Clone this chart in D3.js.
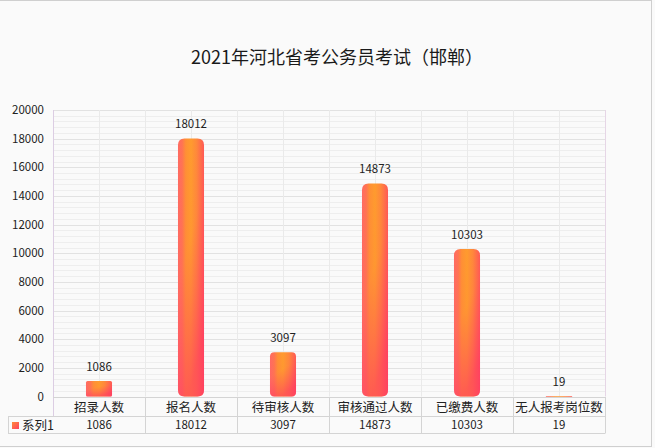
<!DOCTYPE html>
<html><head><meta charset="utf-8">
<script src="https://cdn.jsdelivr.net/npm/d3@7"></script>
<style>
html,body{margin:0;padding:0;background:#fff;}
svg{display:block;font-family:"Noto Sans CJK SC","Noto Sans",sans-serif;}
</style></head>
<body>
<script>
const title = "2021年河北省考公务员考试（邯郸）";
const seriesName = "系列1";
const categories = ["招录人数","报名人数","待审核人数","审核通过人数","已缴费人数","无人报考岗位数"];
const values = [1086, 18012, 3097, 14873, 10303, 19];
const yTicks = [0,2000,4000,6000,8000,10000,12000,14000,16000,18000,20000];
const yMinorStep = 400;

const W = 655, H = 448;
const plot = {left: 53, right: 605, top: 110, bottom: 396.5};

const svg = d3.select("body").append("svg").attr("width", W).attr("height", H);
const defs = svg.append("defs");

// background + frame
svg.append("rect").attr("x",0).attr("y",0).attr("width",W).attr("height",H).attr("fill","#fafafa");
svg.append("rect").attr("x",-1).attr("y",0.5).attr("width",652.5).attr("height",446).attr("fill","none").attr("stroke","#cfcfcf");

const x = d3.scaleBand().domain(categories).range([plot.left, plot.right]).paddingInner(0.717).paddingOuter(0.3585);
const xCell = d3.scaleBand().domain(categories).range([plot.left, plot.right]);
const y = d3.scaleLinear().domain([0, 20000]).range([plot.bottom, plot.top]);

// minor gridlines
const minor = d3.range(0, 20000 + 1, yMinorStep);
svg.append("g").selectAll("line").data(minor).join("line")
  .attr("x1", plot.left).attr("x2", plot.right)
  .attr("y1", d => Math.round(y(d)) + 0.5).attr("y2", d => Math.round(y(d)) + 0.5)
  .attr("stroke", d => d % 2000 === 0 ? "#e2e2e2" : "#eeeeee").attr("stroke-width", 1);

// vertical gridlines (category boundaries and centres)
const vLines = [];
categories.forEach(c => { vLines.push(xCell(c)); vLines.push(xCell(c) + xCell.bandwidth()/2); });
svg.append("g").selectAll("line").data(vLines.slice(1)).join("line")
  .attr("x1", d => Math.round(d) + 0.5).attr("x2", d => Math.round(d) + 0.5)
  .attr("y1", plot.top).attr("y2", plot.bottom)
  .attr("stroke", "#eaeaea");

// plot border left/right
svg.append("line").attr("x1", plot.left + 0.5).attr("x2", plot.left + 0.5).attr("y1", plot.top).attr("y2", 416)
  .attr("stroke", "#dccde3");
svg.append("line").attr("x1", plot.right + 0.5).attr("x2", plot.right + 0.5).attr("y1", plot.top).attr("y2", plot.bottom)
  .attr("stroke", "#e6d6e6");

// y-axis tick labels
const yAxis = d3.axisLeft(y).tickValues(yTicks).tickSize(0).tickPadding(9).tickFormat(d3.format("d"));
const gy = svg.append("g").attr("transform", `translate(${plot.left},0)`).call(yAxis);
gy.select(".domain").remove();
gy.selectAll("text").attr("font-size", 11.5).attr("fill", "#222").attr("font-family", "'Noto Sans CJK SC',sans-serif");

// gradients
const g1 = defs.append("linearGradient").attr("id","barH").attr("x1","0").attr("x2","1").attr("y1","0").attr("y2","0");
[[0,"#ff6b63"],[0.16,"#ff7453"],[0.3,"#ff9134"],[0.5,"#ff9d2d"],[0.72,"#ff8a3a"],[1,"#ff5a55"]]
  .forEach(([o,c]) => g1.append("stop").attr("offset", o).attr("stop-color", c));
const g2 = defs.append("linearGradient").attr("id","barV").attr("x1","0").attr("x2","0.4").attr("y1","0").attr("y2","1");
[[0,"#ff3a6a",0],[0.5,"#ff3a6a",0.05],[1,"#ff3168",0.6]]
  .forEach(([o,c,a]) => g2.append("stop").attr("offset", o).attr("stop-color", c).attr("stop-opacity", a));
const g3 = defs.append("linearGradient").attr("id","legendG").attr("x1","0").attr("x2","1").attr("y1","0").attr("y2","1");
[[0,"#ff8a3a"],[1,"#ff4060"]].forEach(([o,c]) => g3.append("stop").attr("offset", o).attr("stop-color", c));

function barPath(x0, y0, w, h) {
  const r = Math.min(6.5, h * 0.1, w / 2);
  return `M${x0},${y0 + r} Q${x0},${y0} ${x0 + r},${y0} L${x0 + w - r},${y0} Q${x0 + w},${y0} ${x0 + w},${y0 + r}
          L${x0 + w},${y0 + h - r} Q${x0 + w},${y0 + h} ${x0 + w - r},${y0 + h} L${x0 + r},${y0 + h} Q${x0},${y0 + h} ${x0},${y0 + h - r} Z`;
}

const data = categories.map((c, i) => ({c, v: values[i]}));
const bars = svg.append("g");
bars.selectAll("path.base").data(data).join("path").attr("class","base")
  .attr("d", d => barPath(x(d.c), y(d.v), x.bandwidth(), Math.max(1.5, y(0) - y(d.v))))
  .attr("fill", "url(#barH)");
bars.selectAll("path.over").data(data).join("path").attr("class","over")
  .attr("d", d => barPath(x(d.c), y(d.v), x.bandwidth(), Math.max(1.5, y(0) - y(d.v))))
  .attr("fill", "url(#barV)");

// data labels
svg.append("g").selectAll("text").data(data).join("text")
  .attr("x", d => x(d.c) + x.bandwidth()/2)
  .attr("y", d => y(d.v) - 10)
  .attr("text-anchor", "middle").attr("font-size", 11.5).attr("fill", "#222")
  .text(d => d.v);

// title
svg.append("text").attr("x", 337).attr("y", 64).attr("text-anchor","middle")
  .attr("font-size", 18).attr("fill", "#1a1a1a").text(title);

// data table
const rowTop = 397, rowMid = 416, rowBot = 433.5;
const tbl = svg.append("g");
tbl.append("line").attr("x1", plot.left).attr("x2", plot.right).attr("y1", rowTop + 0.5).attr("y2", rowTop + 0.5).attr("stroke","#d4d4d4");
tbl.append("line").attr("x1", 8).attr("x2", plot.right).attr("y1", rowMid + 0.5).attr("y2", rowMid + 0.5).attr("stroke","#d4d4d4");
tbl.append("line").attr("x1", 8).attr("x2", plot.right).attr("y1", rowBot).attr("y2", rowBot).attr("stroke","#d4d4d4");
tbl.append("line").attr("x1", 8.5).attr("x2", 8.5).attr("y1", rowMid).attr("y2", rowBot).attr("stroke","#d4d4d4");
tbl.selectAll("line.sep").data(categories).join("line").attr("class","sep")
  .attr("x1", d => Math.round(xCell(d) + xCell.bandwidth()) + 0.5).attr("x2", d => Math.round(xCell(d) + xCell.bandwidth()) + 0.5)
  .attr("y1", rowTop).attr("y2", rowBot).attr("stroke","#d4d4d4");
tbl.selectAll("text.cat").data(categories).join("text").attr("class","cat")
  .attr("x", d => xCell(d) + xCell.bandwidth()/2).attr("y", 411.5)
  .attr("text-anchor","middle").attr("font-size", 12.5).attr("fill","#222").text(d => d);
tbl.selectAll("text.val").data(data).join("text").attr("class","val")
  .attr("x", d => xCell(d.c) + xCell.bandwidth()/2).attr("y", 429)
  .attr("text-anchor","middle").attr("font-size", 11.5).attr("fill","#222").text(d => d.v);
tbl.append("rect").attr("x", 12).attr("y", 422).attr("width", 7).attr("height", 7).attr("fill","url(#legendG)");
tbl.append("text").attr("x", 22).attr("y", 429.5).attr("font-size", 12.5).attr("fill","#222").text(seriesName);
</script>
</body></html>
